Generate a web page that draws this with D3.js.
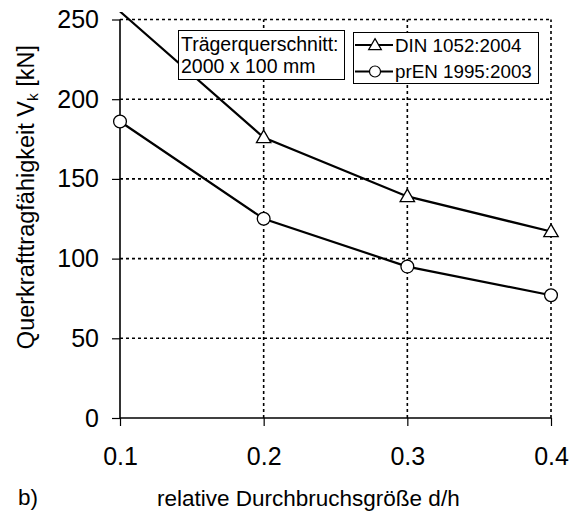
<!DOCTYPE html>
<html>
<head>
<meta charset="utf-8">
<script src="https://cdn.jsdelivr.net/npm/d3@7"></script>
<style>
  body { margin: 0; background: #fff; }
  text { font-family: "Liberation Sans", Arial, sans-serif; fill: #000; }
</style>
</head>
<body>
<div id="chart"></div>
<script>
// data
let ratios = [0.1, 0.2, 0.3, 0.4];
let dinValues = [255, 176, 139, 117];
let enValues = [186, 125, 95, 77];
let yTicks = [0, 50, 100, 150, 200, 250];
let seriesNames = ["DIN 1052:2004", "prEN 1995:2003"];
let noteLines = ["Trägerquerschnitt:", "2000 x 100 mm"];

let width = 578, height = 516;
let margin = { top: 19.5, right: 27, bottom: 98, left: 120 };

let svg = d3.select("#chart").append("svg")
  .attr("width", width)
  .attr("height", height);

let x = d3.scaleLinear()
  .domain([0.1, 0.4])
  .range([margin.left, width - margin.right]);

let y = d3.scaleLinear()
  .domain([0, 250])
  .range([height - margin.bottom, margin.top]);

// dotted grid
let grid = svg.append("g")
  .attr("stroke", "#000")
  .attr("stroke-width", 1.6)
  .attr("stroke-dasharray", "3,3");

grid.selectAll("line.h")
  .data(yTicks.filter(d => d > 0))
  .join("line")
  .attr("class", "h")
  .attr("x1", x(0.1)).attr("x2", x(0.4))
  .attr("y1", d => y(d)).attr("y2", d => y(d));

grid.selectAll("line.v")
  .data(ratios.filter(d => d > 0.1))
  .join("line")
  .attr("class", "v")
  .attr("x1", d => x(d)).attr("x2", d => x(d))
  .attr("y1", y(0)).attr("y2", y(250));

// axes
let yAxis = svg.append("g")
  .attr("transform", `translate(${margin.left},0)`)
  .call(d3.axisLeft(y).tickValues(yTicks).tickSize(8).tickPadding(13));

let xAxis = svg.append("g")
  .attr("transform", `translate(0,${y(0)})`)
  .call(d3.axisBottom(x).tickValues(ratios).tickFormat(d3.format(".1f")).tickSize(8).tickPadding(21));

[xAxis, yAxis].forEach(g => {
  g.select(".domain").attr("stroke-width", 1.6);
  g.selectAll(".tick line").attr("stroke-width", 1.2);
  g.selectAll("text").attr("font-size", "25px").attr("font-family", "Liberation Sans, Arial, sans-serif");
});
yAxis.select(".domain").attr("d", `M0,${y(0)}V${y(250)}`);
xAxis.select(".domain").attr("d", `M${x(0.1)},0H${x(0.4)}`);

// clip so the DIN line ends at the top of the chart area
svg.append("clipPath").attr("id", "area")
  .append("rect")
  .attr("x", 0).attr("y", 12)
  .attr("width", width).attr("height", height);

let line = d3.line()
  .x((d, i) => x(ratios[i]))
  .y(d => y(d));

let plot = svg.append("g").attr("clip-path", "url(#area)");

plot.append("path")
  .datum(dinValues)
  .attr("d", line)
  .attr("fill", "none").attr("stroke", "#000").attr("stroke-width", 2.2);

plot.append("path")
  .datum(enValues)
  .attr("d", line)
  .attr("fill", "none").attr("stroke", "#000").attr("stroke-width", 2.2);

let tri = d3.symbol().type(d3.symbolTriangle).size(90);

svg.selectAll("path.tri")
  .data(dinValues.map((v, i) => [ratios[i], v]).filter(d => d[1] <= 250))
  .join("path")
  .attr("class", "tri")
  .attr("d", tri)
  .attr("transform", d => `translate(${x(d[0])},${y(d[1]) + 1})`)
  .attr("fill", "#fff").attr("stroke", "#000").attr("stroke-width", 1.3);

svg.selectAll("circle.en")
  .data(enValues.map((v, i) => [ratios[i], v]))
  .join("circle")
  .attr("class", "en")
  .attr("cx", d => x(d[0]))
  .attr("cy", d => y(d[1]))
  .attr("r", 6.4)
  .attr("fill", "#fff").attr("stroke", "#000").attr("stroke-width", 1.3);

// note box
let note = svg.append("g");
note.append("rect")
  .attr("x", 178.5).attr("y", 30.5).attr("width", 166).attr("height", 49)
  .attr("fill", "#fff").attr("stroke", "#000").attr("stroke-width", 1);
note.selectAll("text")
  .data(noteLines)
  .join("text")
  .attr("x", 181)
  .attr("y", (d, i) => 51 + i * 22)
  .attr("font-size", "19.5px")
  .text(d => d);

// legend
let legend = svg.append("g");
legend.append("rect")
  .attr("x", 353.5).attr("y", 32.5).attr("width", 185).attr("height", 51)
  .attr("fill", "#fff").attr("stroke", "#000").attr("stroke-width", 1);

let rows = legend.selectAll("g.row")
  .data(seriesNames)
  .join("g")
  .attr("class", "row")
  .attr("transform", (d, i) => `translate(0,${45 + i * 26.5})`);

rows.append("line")
  .attr("x1", 355).attr("x2", 393)
  .attr("stroke", "#000").attr("stroke-width", 2.2);

rows.filter((d, i) => i === 0).append("path")
  .attr("d", d3.symbol().type(d3.symbolTriangle).size(70))
  .attr("transform", "translate(375,1)")
  .attr("fill", "#fff").attr("stroke", "#000").attr("stroke-width", 1.2);

rows.filter((d, i) => i === 1).append("circle")
  .attr("cx", 375).attr("r", 5.5)
  .attr("fill", "#fff").attr("stroke", "#000").attr("stroke-width", 1.2);

rows.append("text")
  .attr("x", 395).attr("dy", "0.35em")
  .attr("font-size", "18.8px")
  .text(d => d);

// axis titles
let yTitle = svg.append("text")
  .attr("transform", "translate(34,197) rotate(-90)")
  .attr("text-anchor", "middle")
  .attr("font-size", "23.5px");
yTitle.append("tspan").text("Querkrafttragfähigkeit V");
yTitle.append("tspan").attr("font-size", "15.5px").attr("dy", "4").text("k");
yTitle.append("tspan").attr("dy", "-4").text(" [kN]");

svg.append("text")
  .attr("x", 157).attr("y", 506)
  .attr("font-size", "22.5px")
  .text("relative Durchbruchsgröße d/h");

svg.append("text")
  .attr("x", 18).attr("y", 505)
  .attr("font-size", "22.5px")
  .text("b)");
</script>
</body>
</html>
